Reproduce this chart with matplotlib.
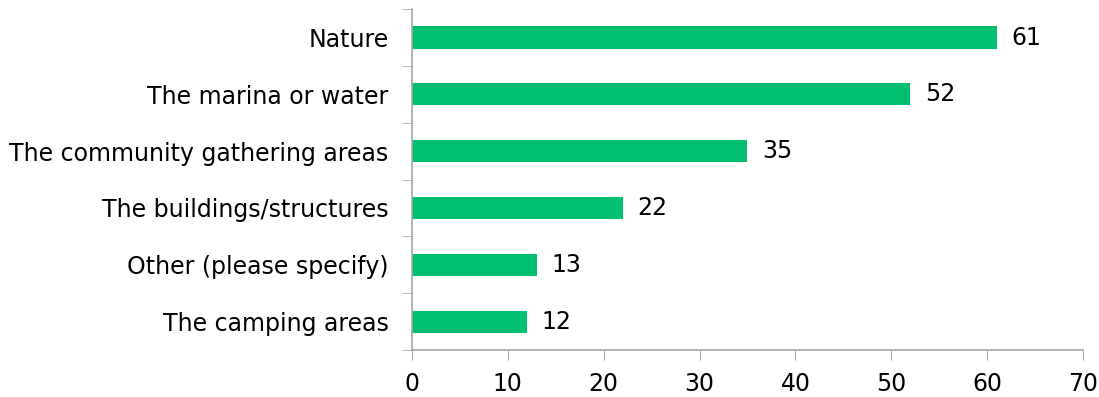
import matplotlib
matplotlib.use("Agg")
import matplotlib.pyplot as plt

categories = ["Nature", "The marina or water", "The community gathering areas",
              "The buildings/structures", "Other (please specify)", "The camping areas"]
values = [61, 52, 35, 22, 13, 12]
xticks = [0, 10, 20, 30, 40, 50, 60, 70]

BAR = "#00BF6F"
AXIS = "#A6A6A6"
FS = 17

fig = plt.figure(figsize=(10.99, 3.97), dpi=100)
ax = fig.add_axes([0.3749, 0.1184, 0.6105, 0.8586])

n = len(categories)
ypos = list(range(n))[::-1]
ax.barh(ypos, values, height=0.39, color=BAR)

for y, v in zip(ypos, values):
    ax.text(v + 1.5, y, str(v), va="center", ha="left", fontsize=FS, color="black")

ax.set_xlim(0, 70)
ax.set_ylim(-0.5, n - 0.5)
ax.set_xticks(xticks)
ax.set_xticklabels([str(t) for t in xticks], fontsize=FS)

# category labels without tick marks, tick marks at boundaries
ax.set_yticks(ypos)
ax.set_yticklabels(categories, fontsize=FS)
ax.tick_params(axis="y", length=0, pad=17)
ax.set_yticks([i - 0.5 for i in range(n + 1)], minor=True)
ax.tick_params(axis="y", which="minor", length=7, color=AXIS, direction="out")
ax.tick_params(axis="x", length=7, color=AXIS, direction="out", pad=9)

for s in ["top", "right"]:
    ax.spines[s].set_visible(False)
for s in ["left", "bottom"]:
    ax.spines[s].set_color(AXIS)
    ax.spines[s].set_linewidth(1.2)

fig.savefig("out.png", dpi=100)
